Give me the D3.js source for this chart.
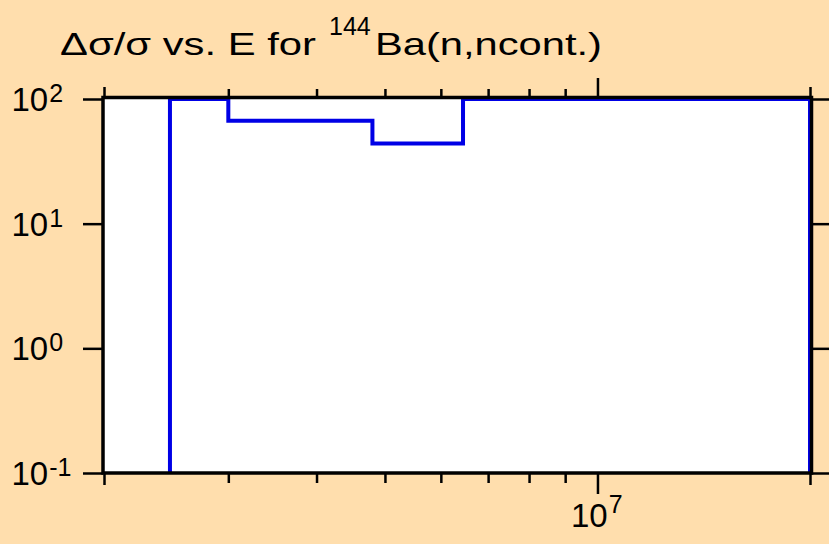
<!DOCTYPE html>
<html>
<head>
<meta charset="utf-8">
<script src="https://cdn.jsdelivr.net/npm/d3@7"></script>
<style>
  body { margin: 0; background: #FFDEAD; }
  svg { display: block; }
  text { font-family: "Liberation Sans", Arial, sans-serif; fill: #000; }
</style>
</head>
<body>
<div id="chart"></div>
<script>
// bin edges (eV) and relative uncertainty (%) per bin
var binEdges = [2.48e6, 3e6, 4.8e6, 6.45e6, 2e7];
var binValues = [100, 67, 44, 100];

var xMinorTicks = [3e6, 4e6, 5e6, 6e6, 7e6, 8e6, 9e6];
var xMajorTicks = [1e7];
var xEdgeTicks = [2e6, 2e7];
var yTicks = [0.1, 1, 10, 100];
var yTickExp = ["-1", "0", "1", "2"];

var W = 829, H = 544;

var svg = d3.select("#chart").append("svg")
	.attr("width", W)
	.attr("height", H);

svg.append("rect")
	.attr("width", W)
	.attr("height", H)
	.attr("fill", "#FFDEAD");

var x = d3.scaleLog().domain([2e6, 2e7]).range([104, 810]);
var y = d3.scaleLog().domain([0.1, 100]).range([473, 99]);

// plot area
svg.append("rect")
	.attr("x", x.range()[0])
	.attr("y", y.range()[1])
	.attr("width", x.range()[1] - x.range()[0])
	.attr("height", y.range()[0] - y.range()[1])
	.attr("fill", "#fff");

// step curve
var pts = [[binEdges[0], 0.1]];
binValues.forEach(function (v, i) {
	pts.push([binEdges[i], v]);
});
pts.push([binEdges[binEdges.length - 1], binValues[binValues.length - 1]]);
pts.push([binEdges[binEdges.length - 1], 0.1]);

var line = d3.line()
	.x(function (d) { return x(d[0]); })
	.y(function (d) { return y(d[1]); })
	.curve(d3.curveStepAfter);

svg.append("path")
	.datum(pts)
	.attr("d", line)
	.attr("fill", "none")
	.attr("stroke", "#0000e6")
	.attr("stroke-width", 4);

// frame
svg.append("rect")
	.attr("x", 103)
	.attr("y", 97.5)
	.attr("width", 708.5)
	.attr("height", 375.5)
	.attr("fill", "none")
	.attr("stroke", "#000")
	.attr("stroke-width", 3.5);

function styleAxis (g) {
	g.select(".domain").remove();
	g.selectAll(".tick line").attr("stroke", "#000").attr("stroke-width", 2.5);
}

var yB = y.range()[0], yT = y.range()[1];

// x ticks bottom & top
[[d3.axisBottom, yB + 1], [d3.axisTop, yT - 1]].forEach(function (a) {
	svg.append("g").attr("transform", "translate(0," + a[1] + ")")
		.call(a[0](x).tickValues(xMinorTicks).tickSize(9).tickFormat(""))
		.call(styleAxis);
	svg.append("g").attr("transform", "translate(0," + a[1] + ")")
		.call(a[0](x).tickValues(xEdgeTicks).tickSize(11).tickFormat(""))
		.call(styleAxis);
	svg.append("g").attr("transform", "translate(0," + a[1] + ")")
		.call(a[0](x).tickValues(xMajorTicks).tickSize(20).tickFormat(""))
		.call(styleAxis);
});

// x labels
xMajorTicks.forEach(function (v) {
	var t = svg.append("text")
		.attr("x", x(v) - 26.5)
		.attr("y", 527)
		.style("font-size", "33px");
	t.append("tspan").text("10");
	t.append("tspan").attr("dx", 1).attr("dy", -14).style("font-size", "25px").text(Math.round(Math.log10(v)));
});

// y ticks left & right
svg.append("g").attr("transform", "translate(" + (x.range()[0] - 1) + ",0)")
	.call(d3.axisLeft(y).tickValues(yTicks).tickSize(20).tickFormat(""))
	.call(styleAxis);
svg.append("g").attr("transform", "translate(" + (x.range()[1] + 1) + ",0)")
	.call(d3.axisRight(y).tickValues(yTicks).tickSize(20).tickFormat(""))
	.call(styleAxis);

yTicks.forEach(function (v, i) {
	var t = svg.append("text")
		.attr("x", 11.5)
		.attr("y", y(v) + 12)
		.style("font-size", "33px");
	t.append("tspan").text("10");
	t.append("tspan").attr("dx", 1).attr("dy", -9).style("font-size", "25px").text(yTickExp[i]);
});

// title
svg.append("text")
	.attr("x", 60)
	.attr("y", 55)
	.attr("textLength", 256)
	.attr("lengthAdjust", "spacingAndGlyphs")
	.style("font-size", "32px")
	.text("\u0394\u03c3/\u03c3 vs. E for");
svg.append("text")
	.attr("x", 329)
	.attr("y", 35)
	.style("font-size", "25px")
	.text("144");
svg.append("text")
	.attr("x", 375)
	.attr("y", 55)
	.attr("textLength", 227)
	.attr("lengthAdjust", "spacingAndGlyphs")
	.style("font-size", "32px")
	.text("Ba(n,ncont.)");
</script>
</body>
</html>
